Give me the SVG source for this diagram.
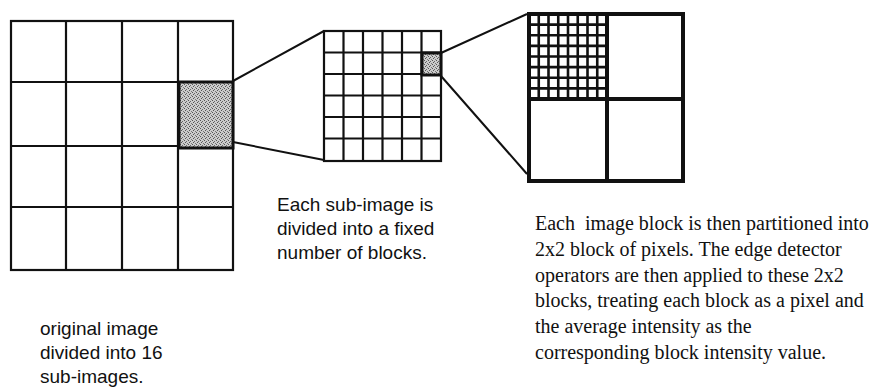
<svg xmlns="http://www.w3.org/2000/svg" width="874" height="389" viewBox="0 0 874 389">
  <style>
    .ln { stroke: #111; fill: none; stroke-width: 2.2; }
    .thin { stroke: #111; fill: none; stroke-width: 2.6; }
    .thick { stroke: #111; fill: none; stroke-width: 4; }
    .conn { stroke: #111; fill: none; stroke-width: 2; }
    .sans { font-family: "Liberation Sans", Arial, sans-serif; font-size: 19px; fill: #111; }
    .serif { font-family: "Liberation Serif", "Times New Roman", serif; font-size: 20px; fill: #111; }
  </style>
  <defs>
    <pattern id="stipple" width="4" height="4" patternUnits="userSpaceOnUse">
      <rect width="4" height="4" fill="#cccccc"/>
      <rect x="0" y="0" width="1" height="1" fill="#555"/>
      <rect x="2" y="1" width="1" height="1" fill="#666"/>
      <rect x="1" y="2" width="1" height="1" fill="#555"/>
      <rect x="3" y="3" width="1" height="1" fill="#777"/>
    </pattern>
  </defs>
  <rect width="874" height="389" fill="#fff"/>

  <!-- Original image: 4x4 grid -->
  <g id="original-image">
    <rect class="ln" x="11" y="21" width="222" height="249"/>
    <path class="ln" d="M66 21V270M122 21V270M178 21V270M11 82H233M11 146H233M11 207H233"/>
    <rect x="179" y="82" width="54" height="66" fill="url(#stipple)" stroke="#111" stroke-width="3"/>
  </g>

  <!-- Sub-image: 6x6 grid -->
  <g id="sub-image">
    <rect class="ln" x="324" y="31" width="117" height="130"/>
    <path class="ln" d="M343.5 31V161M363 31V161M382.5 31V161M402 31V161M421.5 31V161M324 52.5H441M324 74H441M324 95.5H441M324 117H441M324 138.5H441"/>
    <rect x="422" y="53" width="19" height="22" fill="url(#stipple)" stroke="#111" stroke-width="3"/>
  </g>

  <!-- Image block: 2x2 with 8x8 pixels in first quadrant -->
  <g id="image-block">
    <path class="thin" d="M538.75 14V99M548.5 14V99M558.25 14V99M568 14V99M577.75 14V99M587.5 14V99M597.25 14V99M529 24.6H607M529 35.25H607M529 45.9H607M529 56.5H607M529 67.1H607M529 77.75H607M529 88.4H607"/>
    <path class="thick" d="M607 14V181M529 99H683"/>
    <rect class="thick" x="529" y="14" width="154" height="167"/>
  </g>

  <!-- Connectors -->
  <g id="connectors">
    <path class="conn" d="M233 81L324 31M233 142L324 160"/>
    <path class="conn" d="M441 53L527 14M441 76L527 174"/>
  </g>

  <!-- Labels -->
  <g id="label-original">
    <text class="sans" x="40" y="335">original image</text>
    <text class="sans" x="40" y="359">divided into 16</text>
    <text class="sans" x="40" y="383">sub-images.</text>
  </g>
  <g id="label-sub-image">
    <text class="sans" x="277" y="211">Each sub-image is</text>
    <text class="sans" x="277" y="235">divided into a fixed</text>
    <text class="sans" x="277" y="259">number of blocks.</text>
  </g>
  <g id="label-block">
    <text class="serif" x="535" y="230" xml:space="preserve">Each  image block is then partitioned into</text>
    <text class="serif" x="535" y="256">2x2 block of pixels. The edge detector</text>
    <text class="serif" x="535" y="282">operators are then applied to these 2x2</text>
    <text class="serif" x="535" y="307">blocks, treating each block as a pixel and</text>
    <text class="serif" x="535" y="333">the average intensity as the</text>
    <text class="serif" x="535" y="359">corresponding block intensity value.</text>
  </g>
</svg>
